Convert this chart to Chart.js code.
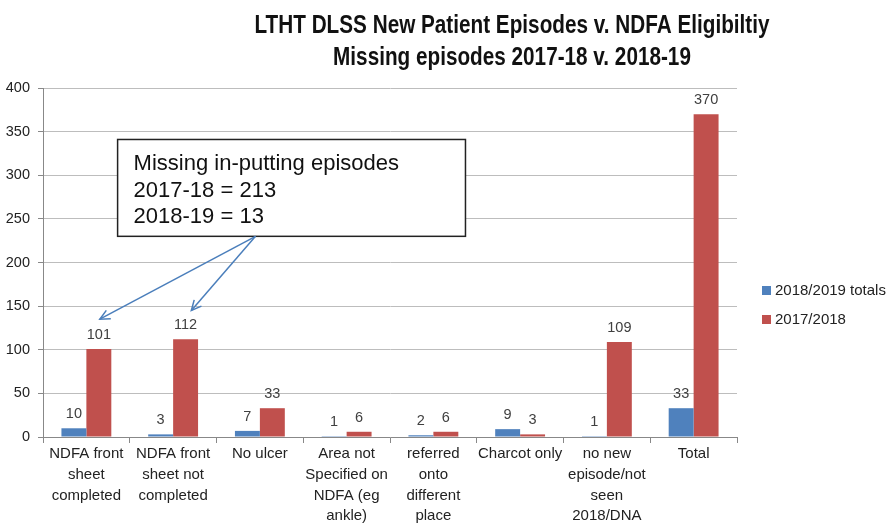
<!DOCTYPE html>
<html><head><meta charset="utf-8">
<script src="https://cdn.jsdelivr.net/npm/chart.js@4/dist/chart.umd.min.js"></script>
<style>html,body{margin:0;padding:0;background:#fff}#wrap{width:894px;height:532px}</style>
</head><body><div id="wrap"><canvas id="c" width="894" height="532"></canvas></div>
<script>
const categories = [
  ["NDFA front","sheet","completed"],
  ["NDFA front","sheet not","completed"],
  ["No ulcer"],
  ["Area not","Specified on","NDFA (eg","ankle)"],
  ["referred","onto","different","place"],
  ["Charcot only"],
  ["no new","episode/not","seen","2018/DNA"],
  ["Total"]
];
const series2018_19 = [10, 3, 7, 1, 2, 9, 1, 33];
const series2017_18 = [101, 112, 33, 6, 6, 3, 109, 370];
const seriesNames = ["2018/2019 totals", "2017/2018"];
const titleLines = ["LTHT DLSS New Patient Episodes v. NDFA Eligibiltiy", "Missing episodes 2017-18 v. 2018-19"];
const noteLines = ["Missing in-putting episodes", "2017-18 = 213", "2018-19 = 13"];
const yTicks = [0, 50, 100, 150, 200, 250, 300, 350, 400];

const BLUE = '#4F81BD', RED = '#C0504D';

const extras = {
  id: 'extras',
  afterDatasetsDraw(chart) {
    const ctx = chart.ctx;
    const xs = chart.scales.x, ys = chart.scales.y;
    // data labels
    ctx.save();
    ctx.font = '14.5px "Liberation Sans", Arial, sans-serif';
    ctx.fillStyle = '#404040';
    ctx.textAlign = 'center';
    ctx.textBaseline = 'alphabetic';
    chart.data.datasets.forEach((ds, di) => {
      const meta = chart.getDatasetMeta(di);
      meta.data.forEach((bar, i) => {
        ctx.fillText(String(ds.data[i]), bar.x, bar.y - 10);
      });
    });
    ctx.restore();

    // title (condensed to match reference width)
    ctx.save();
    ctx.fillStyle = '#111';
    ctx.textAlign = 'center';
    ctx.textBaseline = 'middle';
    ctx.font = 'bold 26px "Liberation Sans", Arial, sans-serif';
    const w0 = ctx.measureText(titleLines[0]).width;
    const sc = 515 / w0;
    ctx.translate(512, 0);
    ctx.scale(sc, 1);
    ctx.fillText(titleLines[0], 0, 26);
    ctx.fillText(titleLines[1], 0, 58);
    ctx.restore();

    // legend
    ctx.save();
    ctx.font = '15px "Liberation Sans", Arial, sans-serif';
    ctx.textBaseline = 'middle';
    ctx.fillStyle = BLUE; ctx.fillRect(762, 286, 9, 9);
    ctx.fillStyle = RED; ctx.fillRect(762, 315, 9, 9);
    ctx.fillStyle = '#222';
    ctx.fillText(seriesNames[0], 775, 291);
    ctx.fillText(seriesNames[1], 775, 320);
    ctx.restore();

    // annotation box (positioned in scale coordinates)
    const step = xs.getPixelForValue(1) - xs.getPixelForValue(0);
    const x0 = xs.getPixelForValue(0);
    const bx1 = x0 + 0.36 * step, bx2 = x0 + 4.37 * step;
    const by1 = ys.getPixelForValue(341), by2 = ys.getPixelForValue(230);
    ctx.save();
    ctx.fillStyle = '#fff';
    ctx.fillRect(bx1, by1, bx2 - bx1, by2 - by1);
    ctx.strokeStyle = '#222';
    ctx.lineWidth = 1.5;
    ctx.strokeRect(bx1, by1, bx2 - bx1, by2 - by1);
    ctx.fillStyle = '#111';
    ctx.font = '22px "Liberation Sans", Arial, sans-serif';
    ctx.textBaseline = 'alphabetic';
    ctx.textAlign = 'left';
    noteLines.forEach((t, i) => ctx.fillText(t, bx1 + 16, by1 + 31 + i * 26.5));
    // arrows
    const sx = x0 + 1.95 * step, sy = by2;
    const tips = [[x0 + 0.155 * step, ys.getPixelForValue(135)], [x0 + 1.21 * step, ys.getPixelForValue(145)]];
    ctx.strokeStyle = '#4A7EBB';
    ctx.lineWidth = 1.5;
    tips.forEach(([tx, ty]) => {
      ctx.beginPath(); ctx.moveTo(sx, sy); ctx.lineTo(tx, ty); ctx.stroke();
      const a = Math.atan2(ty - sy, tx - sx), L = 11, w = 0.45;
      ctx.beginPath();
      ctx.moveTo(tx - L * Math.cos(a - w), ty - L * Math.sin(a - w));
      ctx.lineTo(tx, ty);
      ctx.lineTo(tx - L * Math.cos(a + w), ty - L * Math.sin(a + w));
      ctx.stroke();
    });
    ctx.restore();
  }
};

new Chart(document.getElementById('c'), {
  type: 'bar',
  data: {
    labels: categories,
    datasets: [
      { label: seriesNames[0], data: series2018_19, backgroundColor: BLUE },
      { label: seriesNames[1], data: series2017_18, backgroundColor: RED }
    ]
  },
  options: {
    responsive: false,
    animation: false,
    devicePixelRatio: 1,
    layout: { padding: { left: 0, right: 157, top: 88, bottom: 0 } },
    plugins: { legend: { display: false }, title: { display: false }, tooltip: { enabled: false } },
    datasets: { bar: { categoryPercentage: 0.575, barPercentage: 1 } },
    scales: {
      x: {
        afterFit(s) { s.height = 95; },
        grid: { display: true, drawOnChartArea: false, offset: true, tickLength: 6, color: '#888' },
        border: { color: '#888' },
        ticks: { color: '#222', font: { size: 15, lineHeight: 1.37, family: '"Liberation Sans", Arial, sans-serif' }, padding: 1, maxRotation: 0, autoSkip: false }
      },
      y: {
        min: 0, max: 400,
        afterFit(s) { s.width = 43; },
        afterBuildTicks(s) { s.ticks = yTicks.map(v => ({ value: v })); },
        grid: { color: '#bdbdbd', tickLength: 5, tickColor: '#888' },
        border: { color: '#888' },
        ticks: { color: '#222', font: { size: 14.5, family: '"Liberation Sans", Arial, sans-serif' }, padding: 8 }
      }
    }
  },
  plugins: [extras]
});
</script>
</body></html>
